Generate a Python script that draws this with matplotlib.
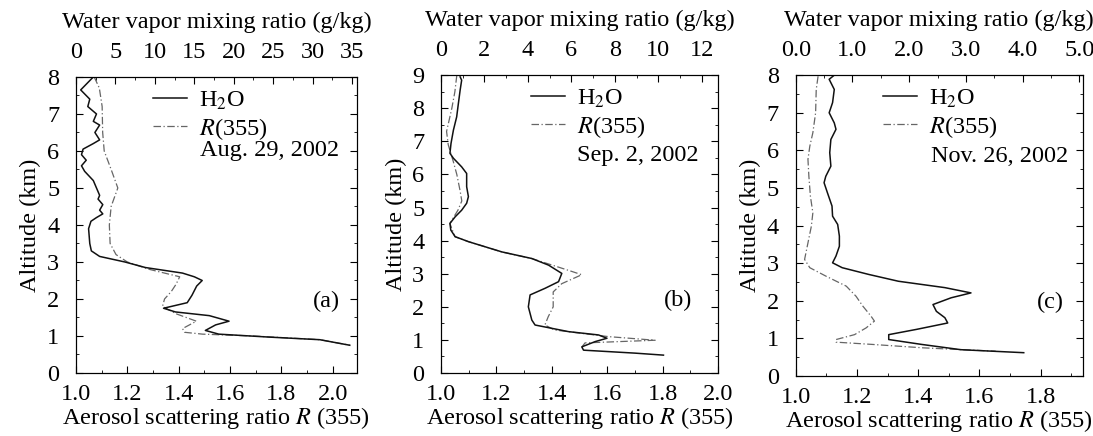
import numpy as np
import matplotlib
matplotlib.use("Agg")
import matplotlib.pyplot as plt
from matplotlib.ticker import MultipleLocator, FormatStrFormatter
from matplotlib.lines import Line2D

plt.rcParams['font.family'] = ['Liberation Serif', 'DejaVu Serif']
plt.rcParams['mathtext.fontset'] = 'stix'
FS = 17.5

# ---- panel (a) Aug. 29, 2002 ----
h2o_a_alt = [8.0, 7.65, 7.4, 7.2, 7.0, 6.8, 6.7, 6.5, 6.3, 6.2, 6.05, 5.9, 5.75, 5.6, 5.45,
             5.2, 5.0, 4.8, 4.7, 4.55, 4.4, 4.3, 4.2, 4.1, 3.9, 3.5, 3.3, 3.15, 3.0, 2.85,
             2.7, 2.6, 2.5, 2.35, 2.1, 1.9, 1.75, 1.65, 1.55, 1.4, 1.3, 1.15, 1.05, 0.97,
             0.9, 0.75]
h2o_a_val = [2.2, 0.6, 1.75, 1.5, 2.6, 2.2, 3.0, 2.4, 3.0, 2.2, 0.9, 0.7, 1.3, 0.7, 1.1,
             2.2, 2.6, 3.0, 2.8, 3.4, 3.0, 3.4, 2.6, 1.9, 1.6, 1.75, 1.95, 3.0, 6.2, 8.8,
             13.5, 15.0, 16.0, 15.3, 14.7, 14.1, 11.1, 12.6, 16.9, 19.4, 17.7, 16.4, 18.1, 24.5,
             30.9, 34.7]
r_a_alt = [8.0, 7.7, 7.2, 6.5, 6.0, 5.5, 5.0, 4.5, 4.0, 3.5, 3.2, 3.0, 2.8, 2.6, 2.4,
           2.2, 2.0, 1.8, 1.6, 1.4, 1.2, 1.1, 1.05, 1.0, 0.9, 0.75]
r_a_val = [1.071, 1.091, 1.102, 1.104, 1.11, 1.137, 1.163, 1.137, 1.13, 1.133, 1.156, 1.20,
           1.286, 1.404, 1.39, 1.371, 1.345, 1.337, 1.39, 1.469, 1.415, 1.423, 1.493, 1.689,
           1.95, 2.067]

# ---- panel (b) Sep. 2, 2002 ----
h2o_b_alt = [8.95, 8.85, 8.55, 8.15, 7.74, 7.34, 6.94, 6.64, 6.49, 6.23, 6.03, 5.63, 5.33,
             5.13, 4.92, 4.72, 4.52, 4.32, 4.12, 3.97, 3.66, 3.46, 3.26, 3.01, 2.76, 2.56,
             2.36, 2.0, 1.6, 1.45, 1.25, 1.15, 1.05, 0.95, 0.79, 0.69, 0.6, 0.54]
h2o_b_val = [0.88, 0.95, 0.88, 0.8, 0.72, 0.57, 0.46, 0.41, 0.57, 0.95, 1.18, 1.18, 1.26,
             1.18, 0.95, 0.65, 0.41, 0.45, 0.65, 1.26, 2.8, 4.18, 4.95, 5.56, 5.41, 4.79,
             4.1, 4.02, 4.18, 4.33, 5.87, 7.25, 7.64, 7.1, 6.48, 6.56, 8.94, 10.24]
r_b_alt = [9.0, 8.5, 8.0, 7.3, 6.9, 6.4, 6.0, 5.5, 5.2, 4.92, 4.52, 4.12, 3.97, 3.66, 3.46,
           3.2, 3.07, 2.97, 2.7, 2.45, 2.0, 1.7, 1.45, 1.3, 1.1, 0.99, 0.91, 0.8]
r_b_val = [1.057, 1.05, 1.039, 1.02, 1.026, 1.044, 1.057, 1.069, 1.075, 1.061, 1.032, 1.05,
           1.099, 1.219, 1.327, 1.424, 1.472, 1.508, 1.436, 1.405, 1.405, 1.387, 1.375, 1.41,
           1.604, 1.773, 1.52, 1.51]

# ---- panel (c) Nov. 26, 2002 ----
h2o_c_alt = [8.0, 7.89, 7.62, 7.27, 7.0, 6.73, 6.56, 6.29, 5.94, 5.58, 5.31, 5.14, 4.87,
             4.52, 4.25, 4.03, 3.72, 3.45, 3.19, 3.01, 2.88, 2.7, 2.52, 2.35, 2.21, 2.08,
             1.9, 1.72, 1.55, 1.41, 1.24, 1.1, 0.97, 0.84, 0.70, 0.62]
h2o_c_val = [0.68, 0.59, 0.68, 0.65, 0.59, 0.68, 0.71, 0.62, 0.6, 0.62, 0.53, 0.5, 0.56,
             0.64, 0.65, 0.74, 0.77, 0.77, 0.71, 0.65, 0.82, 1.29, 1.81, 2.63, 3.09, 2.74,
             2.42, 2.48, 2.63, 2.68, 2.13, 1.64, 1.64, 2.22, 2.91, 4.02]
r_c_alt = [7.97, 7.62, 7.0, 6.47, 6.11, 5.76, 5.31, 4.78, 4.34, 3.98, 3.54, 3.1, 2.88, 2.65,
           2.39, 2.12, 1.86, 1.59, 1.46, 1.28, 1.1, 0.97, 0.9, 0.84, 0.75, 0.70, 0.66]
r_c_val = [1.073, 1.067, 1.065, 1.056, 1.046, 1.04, 1.043, 1.048, 1.056, 1.051, 1.04, 1.029,
           1.046, 1.1, 1.165, 1.197, 1.219, 1.246, 1.257, 1.23, 1.192, 1.132, 1.132, 1.25,
           1.414, 1.544, 1.653]

panels = [
    dict(h2o=(h2o_a_val, h2o_a_alt), r=(r_a_val, r_a_alt), date="Aug. 29, 2002", tag="(a)",
         rect=[0.0695, 0.1445, 0.257, 0.679], xlim=(1.0, 2.094), top=(0, 35.6), top_major=5,
         top_minor=2.5, top_fmt="%d", ylim=8, leg_x=0.44, date_y=0.75, tag_xy=(0.89, 0.24)),
    dict(h2o=(h2o_b_val, h2o_b_alt), r=(r_b_val, r_b_alt), date="Sep. 2, 2002", tag="(b)",
         rect=[0.4035, 0.1445, 0.2534, 0.683], xlim=(1.0, 2.0), top=(0, 12.75), top_major=2,
         top_minor=1, top_fmt="%d", ylim=9, leg_x=0.49, date_y=0.73, tag_xy=(0.856, 0.245)),
    dict(h2o=(h2o_c_val, h2o_c_alt), r=(r_c_val, r_c_alt), date="Nov. 26, 2002", tag="(c)",
         rect=[0.728, 0.1376, 0.2626, 0.690], xlim=(1.0, 1.937), top=(0, 5.06), top_major=1,
         top_minor=0.5, top_fmt="%.1f", ylim=8, leg_x=0.47, date_y=0.728, tag_xy=(0.889, 0.246)),
]

fig = plt.figure(figsize=(10.93, 4.36), dpi=100)

for p in panels:
    ax = fig.add_axes(p["rect"])
    ax2 = ax.twiny()

    ax.plot(p["r"][0], p["r"][1], color="#666666", lw=0.9, ls=(0, (6, 2, 1, 2)))
    ax2.plot(p["h2o"][0], p["h2o"][1], color="#111111", lw=1.1)

    ax.set_xlim(*p["xlim"])
    ax.set_ylim(0, p["ylim"])
    ax2.set_xlim(*p["top"])

    ax.xaxis.set_major_locator(MultipleLocator(0.2))
    ax.xaxis.set_minor_locator(MultipleLocator(0.1))
    ax.xaxis.set_major_formatter(FormatStrFormatter("%.1f"))
    ax.yaxis.set_major_locator(MultipleLocator(1))
    ax.yaxis.set_minor_locator(MultipleLocator(0.5))
    ax2.xaxis.set_major_locator(MultipleLocator(p["top_major"]))
    ax2.xaxis.set_minor_locator(MultipleLocator(p["top_minor"]))
    ax2.xaxis.set_major_formatter(FormatStrFormatter(p["top_fmt"]))

    ax.tick_params(which="both", direction="in", right=True, top=False, labelsize=FS)
    ax.tick_params(which="major", length=5)
    ax.tick_params(which="minor", length=2.5)
    ax.tick_params(axis="x", which="both", pad=8)
    ax.tick_params(axis="y", which="both", pad=12)
    ax2.tick_params(which="both", direction="in", labelsize=FS, pad=10)
    ax2.tick_params(which="major", length=5)
    ax2.tick_params(which="minor", length=2.5)

    ax.set_xlabel("Aerosol scattering ratio $R$ (355)", fontsize=FS, labelpad=0)
    ax.set_ylabel("Altitude (km)", fontsize=FS, labelpad=4)
    ax2.set_xlabel("Water vapor mixing ratio (g/kg)", fontsize=FS, labelpad=10)

    for sp in list(ax.spines.values()) + list(ax2.spines.values()):
        sp.set_linewidth(0.8)

    handles = [Line2D([], [], color="#111111", lw=1.1),
               Line2D([], [], color="#666666", lw=0.9, ls=(0, (6, 2, 1, 2)))]
    ax.legend(handles, ["H$_2$O", "$R$(355)"], loc="upper left",
              bbox_to_anchor=(p["leg_x"] - 0.2, 0.99), frameon=False, fontsize=FS,
              handlelength=1.4, handletextpad=0.5, labelspacing=0.15, borderaxespad=0)
    ax.text(p["leg_x"], p["date_y"], p["date"], transform=ax.transAxes, fontsize=FS,
            va="center", ha="left")
    ax.text(p["tag_xy"][0], p["tag_xy"][1], p["tag"], transform=ax.transAxes, fontsize=FS,
            va="center", ha="center")

fig.savefig("out.png", dpi=100)
